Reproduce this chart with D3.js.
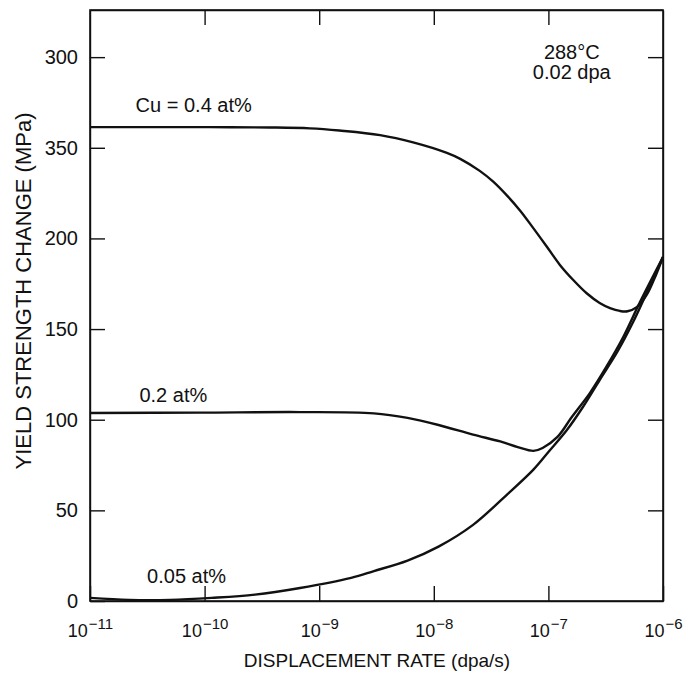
<!DOCTYPE html>
<head>
  <meta charset="utf-8">
  <title>Yield Strength Change vs Displacement Rate</title>
  <script src="https://cdn.jsdelivr.net/npm/d3@7"></script>
  <style>
  body {
    margin: 0;
    background: #fff;
  }
  text {
    font-family: "Liberation Sans", Arial, sans-serif;
    fill: #111;
  }
  .curve {
    fill: none;
    stroke: #111;
    stroke-width: 2.4px;
  }
  .frame {
    fill: none;
    stroke: #111;
    stroke-width: 1.6px;
  }
  .axis path, .axis line {
    stroke: #111;
    stroke-width: 1.4px;
  }
  </style>
</head>
<body>
<script type="text/javascript">
// Data: [displacement rate (dpa/s), yield strength change (MPa)]
var cu04 = [
  [1e-11, 261.4], [3.3e-11, 261.4], [1.1e-10, 261.4], [3.7e-10, 261.2], [8.3e-10, 260.7],
  [1.5e-9, 259.5], [3.4e-9, 257.0], [6.6e-9, 253.0], [1.3e-8, 247.2], [1.7e-8, 243.9],
  [2.5e-8, 237.4], [3.3e-8, 231.3], [4.4e-8, 223.3], [5.65e-8, 215.4], [7.3e-8, 206.1],
  [9.7e-8, 195.4], [1.26e-7, 185.4], [1.64e-7, 177.2], [2.17e-7, 169.6], [2.8e-7, 164.4],
  [3.45e-7, 161.6], [4.2e-7, 160.0], [4.9e-7, 159.8], [5.9e-7, 162.1], [7.2e-7, 168.8],
  [8.7e-7, 180.0], [1e-6, 189.7]
];
var cu02 = [
  [1e-11, 103.7], [9.1e-11, 103.9], [6.8e-10, 104.2], [3.0e-9, 103.5], [5.9e-9, 101.0],
  [1.1e-8, 97.1], [2.2e-8, 91.8], [3.8e-8, 88.0], [5.4e-8, 84.9], [7.4e-8, 82.8],
  [8.9e-8, 84.4], [1.2e-7, 90.5], [1.6e-7, 101.5], [2.3e-7, 114.7], [3.2e-7, 129.1],
  [4.5e-7, 145.6], [6.3e-7, 164.9], [1e-6, 189.7]
];
var cu005 = [
  [1e-11, 1.7], [2.2e-11, 0.6], [5.0e-11, 0.6], [1.15e-10, 1.7], [2.75e-10, 3.5],
  [6.8e-10, 7.2], [1.9e-9, 12.8], [3.0e-9, 16.5], [5.9e-9, 22.3], [1.1e-8, 30.0],
  [2.2e-8, 42.0], [4.4e-8, 59.0], [7.4e-8, 72.5], [1.0e-7, 82.2], [1.45e-7, 94.3],
  [2.0e-7, 107.0], [2.8e-7, 121.9], [4.0e-7, 137.5], [5.5e-7, 154.0], [7.2e-7, 169.9],
  [1e-6, 189.7]
];

// Tick values and the labels as printed on the figure
var xTicks = [1e-11, 1e-10, 1e-9, 1e-8, 1e-7, 1e-6];
var xTickExp = ["\u221211", "\u221210", "\u22129", "\u22128", "\u22127", "\u22126"];
var yTicks = [0, 50, 100, 150, 200, 250, 300];
var yTickLabels = ["0", "50", "100", "150", "200", "350", "300"];

var width = 689, height = 677;
var plotLeft = 90, plotRight = 663, plotTop = 10, plotBottom = 601;

var svg = d3.select("body").append("svg")
    .attr("width", width)
    .attr("height", height);

var x = d3.scaleLog().domain([1e-11, 1e-6]).range([plotLeft, plotRight]);
var y = d3.scaleLinear().domain([0, 326]).range([plotBottom, plotTop]);

// Inward ticks on all four sides
svg.append("g")
    .attr("class", "axis")
    .attr("transform", "translate(" + plotLeft + ",0)")
    .call(d3.axisLeft(y).tickValues(yTicks).tickSizeInner(-15).tickSizeOuter(0).tickPadding(12)
      .tickFormat(function(d, i) { return yTickLabels[i]; }))
    .selectAll("text")
      .style("font-size", "20px")
      .attr("fill", "#111");

svg.append("g")
    .attr("class", "axis")
    .attr("transform", "translate(" + plotRight + ",0)")
    .call(d3.axisRight(y).tickValues(yTicks.slice(1)).tickSizeInner(-15).tickSizeOuter(0).tickFormat(""));

svg.append("g")
    .attr("class", "axis")
    .attr("transform", "translate(0," + plotTop + ")")
    .call(d3.axisTop(x).tickValues(xTicks.slice(1, 5)).tickSizeInner(-15).tickSizeOuter(0).tickFormat(""));

var xAxis = svg.append("g")
    .attr("class", "axis")
    .attr("transform", "translate(0," + plotBottom + ")")
    .call(d3.axisBottom(x).tickValues(xTicks).tickSizeInner(-15).tickSizeOuter(0).tickPadding(23)
      .tickFormat(function() { return ""; }));

// Powers of ten with a raised exponent
xAxis.selectAll(".tick text")
    .attr("dy", "0.71em")
    .attr("fill", "#111")
    .style("font-size", "18px")
    .each(function(d, i) {
      var t = d3.select(this);
      t.append("tspan").text("10");
      t.append("tspan").attr("dx", "1").attr("dy", "-0.55em").style("font-size", "15px").text(xTickExp[i]);
    });

svg.append("rect")
    .attr("class", "frame")
    .attr("x", plotLeft)
    .attr("y", plotTop)
    .attr("width", plotRight - plotLeft)
    .attr("height", plotBottom - plotTop);

// Curves
var line = d3.line()
    .x(function(d) { return x(d[0]); })
    .y(function(d) { return y(d[1]); })
    .curve(d3.curveCatmullRom.alpha(0.5));

[cu04, cu02, cu005].forEach(function(s) {
  svg.append("path")
      .attr("class", "curve")
      .attr("d", line(s));
});

// Curve labels and conditions
svg.append("text").attr("x", x(2.5e-11)).attr("y", y(270)).style("font-size", "20px").text("Cu = 0.4 at%");
svg.append("text").attr("x", x(2.7e-11)).attr("y", y(110)).style("font-size", "20px").text("0.2 at%");
svg.append("text").attr("x", x(3.15e-11)).attr("y", y(10)).style("font-size", "20px").text("0.05 at%");
svg.append("text").attr("x", x(1.6e-7)).attr("y", y(299)).attr("text-anchor", "middle").style("font-size", "20px").text("288\u00b0C");
svg.append("text").attr("x", x(1.6e-7)).attr("y", y(288)).attr("text-anchor", "middle").style("font-size", "20px").text("0.02 dpa");

// Axis titles
svg.append("text")
    .attr("x", 377)
    .attr("y", 667)
    .attr("text-anchor", "middle")
    .style("font-size", "19px")
    .text("DISPLACEMENT RATE (dpa/s)");

svg.append("text")
    .attr("transform", "translate(31,291) rotate(-90)")
    .attr("text-anchor", "middle")
    .style("font-size", "22px")
    .text("YIELD STRENGTH CHANGE (MPa)");
</script>
</body>
</html>
